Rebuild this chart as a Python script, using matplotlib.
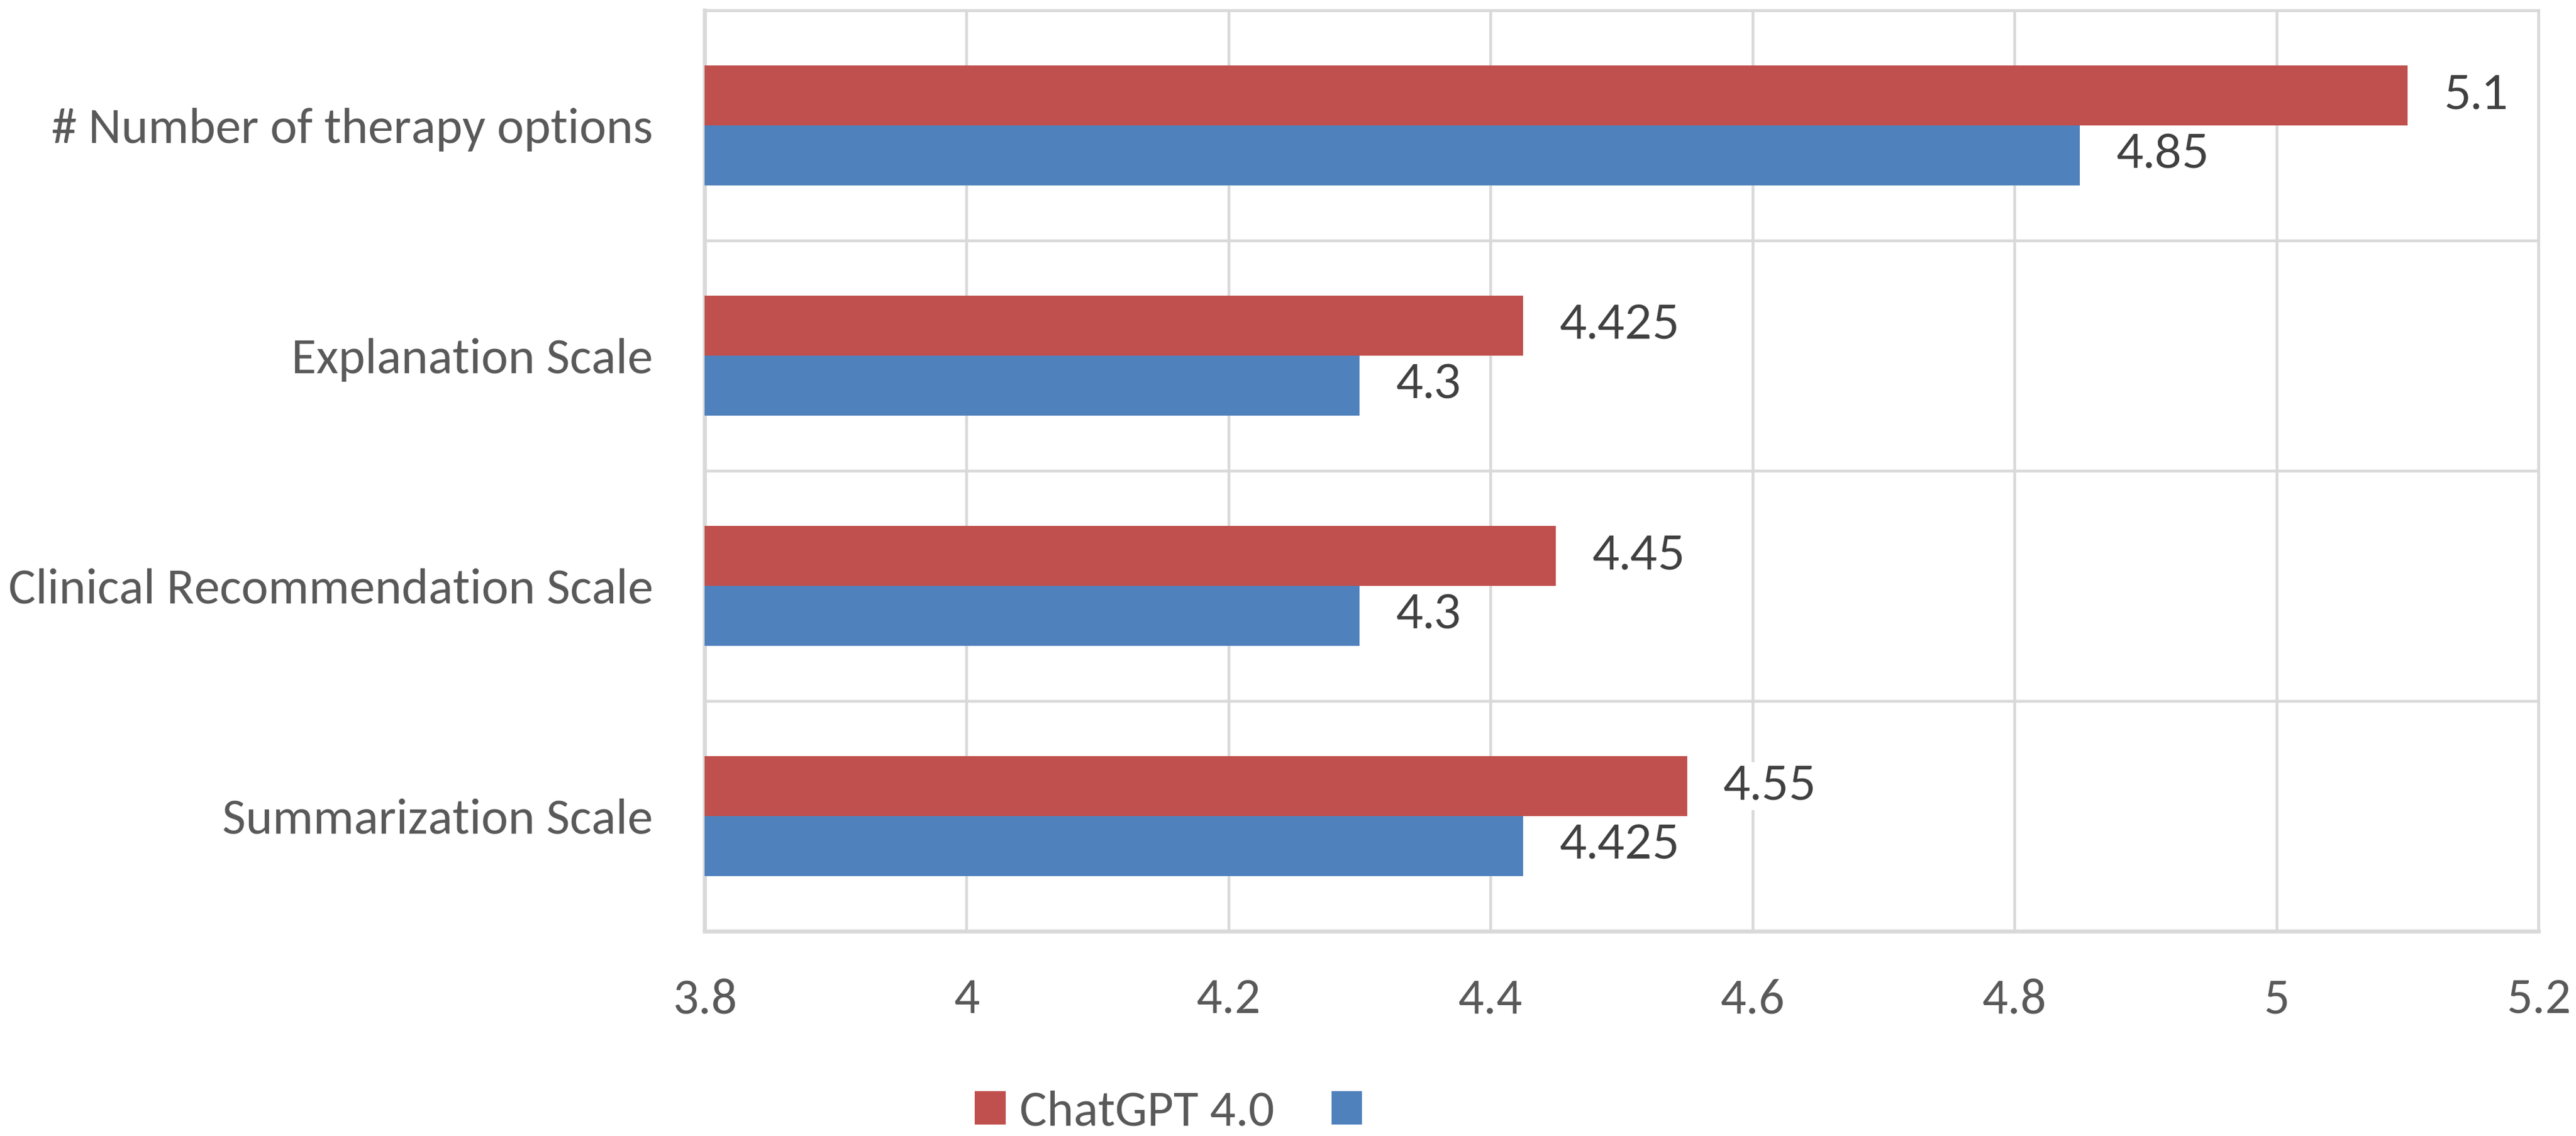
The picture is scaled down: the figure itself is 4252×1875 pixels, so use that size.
import matplotlib
matplotlib.use("Agg")
import matplotlib.pyplot as plt
from matplotlib import font_manager
from matplotlib.patches import Patch
import numpy as np

categories = ["# Number of therapy options", "Explanation Scale",
              "Clinical Recommendation Scale", "Summarization Scale"]
chatgpt = [5.1, 4.425, 4.45, 4.55]
other = [4.85, 4.3, 4.3, 4.425]
series_names = ["ChatGPT 4.0", ""]
xticks = [3.8, 4.0, 4.2, 4.4, 4.6, 4.8, 5.0, 5.2]

RED = "#C0504D"
BLUE = "#4F81BD"
GRID = "#D9D9D9"

installed = {f.name for f in font_manager.fontManager.ttflist}
label_font = "Carlito" if "Carlito" in installed else "Lato"
value_font = "Lato"

fs_val = 18.6   # data labels
fs_lab = 20.2   # axis labels and legend
fig = plt.figure(figsize=(4252 / 300, 1875 / 300), dpi=300)
ax = fig.add_axes([1163 / 4252, 1 - 1537 / 1875, (4190 - 1163) / 4252, (1537 - 17) / 1875])

y = np.arange(len(categories))
h = 0.26
ax.barh(y - h / 2, chatgpt, height=h, color=RED, zorder=3)
ax.barh(y + h / 2, other, height=h, color=BLUE, zorder=3)

ax.set_xlim(3.8, 5.2)
ax.set_ylim(len(categories) - 0.5, -0.5)

# value labels
for vals, off in ((chatgpt, -h / 2), (other, h / 2)):
    for yi, v in zip(y, vals):
        ax.annotate(f"{v:g}", (v, yi + off), xytext=(14.4, 0), textcoords="offset points",
                    ha="left", va="center", fontsize=fs_val, color="#404040",
                    family=value_font, zorder=4,
                    bbox=dict(boxstyle="square,pad=0.05", fc="white", ec="none"))

ax.set_xticks(xticks)
ax.set_xticklabels([f"{t:g}" for t in xticks])
ax.set_yticks(y)
ax.set_yticklabels(categories)
ax.set_yticks(np.arange(len(categories) + 1) - 0.5, minor=True)
ax.tick_params(axis="both", length=0, labelsize=fs_lab, labelcolor="#595959")
ax.tick_params(axis="x", pad=18.5)
ax.tick_params(axis="y", pad=20.4)
ax.tick_params(which="minor", length=0)
for lab in ax.get_xticklabels() + ax.get_yticklabels():
    lab.set_family(label_font)

ax.grid(axis="x", which="major", color=GRID, lw=1.1, zorder=0)
ax.grid(axis="y", which="minor", color=GRID, lw=1.1, zorder=0)
for side in ("top", "right"):
    ax.spines[side].set_color(GRID)
    ax.spines[side].set_linewidth(1.1)
for side in ("left", "bottom"):
    ax.spines[side].set_color(GRID)
    ax.spines[side].set_linewidth(1.6)

handles = [Patch(color=RED), Patch(color=BLUE)]
fig.legend(handles, series_names, loc="center", ncol=2,
           bbox_to_anchor=((1625 + 2258) / 2 / 4252, 1 - 1836 / 1875),
           frameon=False, prop={"family": label_font, "size": fs_lab},
           labelcolor="#595959", handlelength=0.55, handleheight=0.55,
           handletextpad=0.3, columnspacing=1.15, borderpad=0, borderaxespad=0)

fig.savefig("out.png", dpi=300, facecolor="white")
